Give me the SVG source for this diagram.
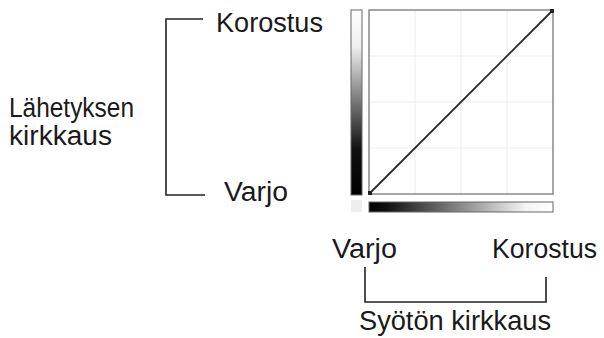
<svg xmlns="http://www.w3.org/2000/svg" width="604" height="338" viewBox="0 0 604 338">
<style>
text{font-family:"Liberation Sans",Arial,sans-serif;font-size:27px;fill:#1a1a1a}
.br{fill:none;stroke:#222;stroke-width:1.6}
.grid{stroke:#ececec;stroke-width:1}
</style>
<defs>
<linearGradient id="gv" x1="0" y1="0" x2="0" y2="1">
<stop offset="0" stop-color="#fff"/><stop offset="0.2" stop-color="#eee"/><stop offset="0.75" stop-color="#111"/><stop offset="1" stop-color="#000"/>
</linearGradient>
<linearGradient id="gh" x1="0" y1="0" x2="1" y2="0">
<stop offset="0" stop-color="#000"/><stop offset="0.1" stop-color="#111"/><stop offset="0.85" stop-color="#f4f4f4"/><stop offset="1" stop-color="#fff"/>
</linearGradient>
</defs>
<rect width="604" height="338" fill="#fff"/>
<g id="chart">
<rect x="351" y="10" width="11" height="185" fill="url(#gv)" stroke="#666" stroke-width="1"/>
<rect x="351" y="200" width="11" height="12" fill="#eee"/>
<rect x="369" y="202" width="184" height="10" fill="url(#gh)" stroke="#666" stroke-width="1"/>
<rect x="369" y="10" width="184" height="184" fill="#fff"/>
<path class="grid" d="M415 10V194M461 10V194M507 10V194M369 56H553M369 102H553M369 148H553"/>
<rect x="369" y="10" width="184" height="184" fill="none" stroke="#888" stroke-width="1.5"/>
<line x1="369" y1="194" x2="553" y2="10" stroke="#2a2a2a" stroke-width="1.8"/>
<rect x="368" y="191" width="4" height="4" fill="#222"/>
<rect x="550" y="9" width="4" height="4" fill="#222"/>
</g>
<g id="connectors">
<path class="br" d="M203 19H166V195H205"/>
<path class="br" d="M365 267V302H546V277"/>
</g>
<g id="label-left">
<text x="9" y="117" textLength="125" lengthAdjust="spacingAndGlyphs">Lähetyksen</text>
<text x="9" y="145" textLength="103" lengthAdjust="spacingAndGlyphs">kirkkaus</text>
</g>
<g id="label-korostus-left"><text x="216" y="32" textLength="107" lengthAdjust="spacingAndGlyphs">Korostus</text></g>
<g id="label-varjo-left"><text x="224" y="201" textLength="64" lengthAdjust="spacingAndGlyphs">Varjo</text></g>
<g id="label-varjo-bottom"><text x="332" y="258" textLength="65" lengthAdjust="spacingAndGlyphs">Varjo</text></g>
<g id="label-korostus-bottom"><text x="492" y="258" textLength="105" lengthAdjust="spacingAndGlyphs">Korostus</text></g>
<g id="label-bottom"><text x="359" y="330" textLength="192" lengthAdjust="spacingAndGlyphs">Syötön kirkkaus</text></g>
</svg>
